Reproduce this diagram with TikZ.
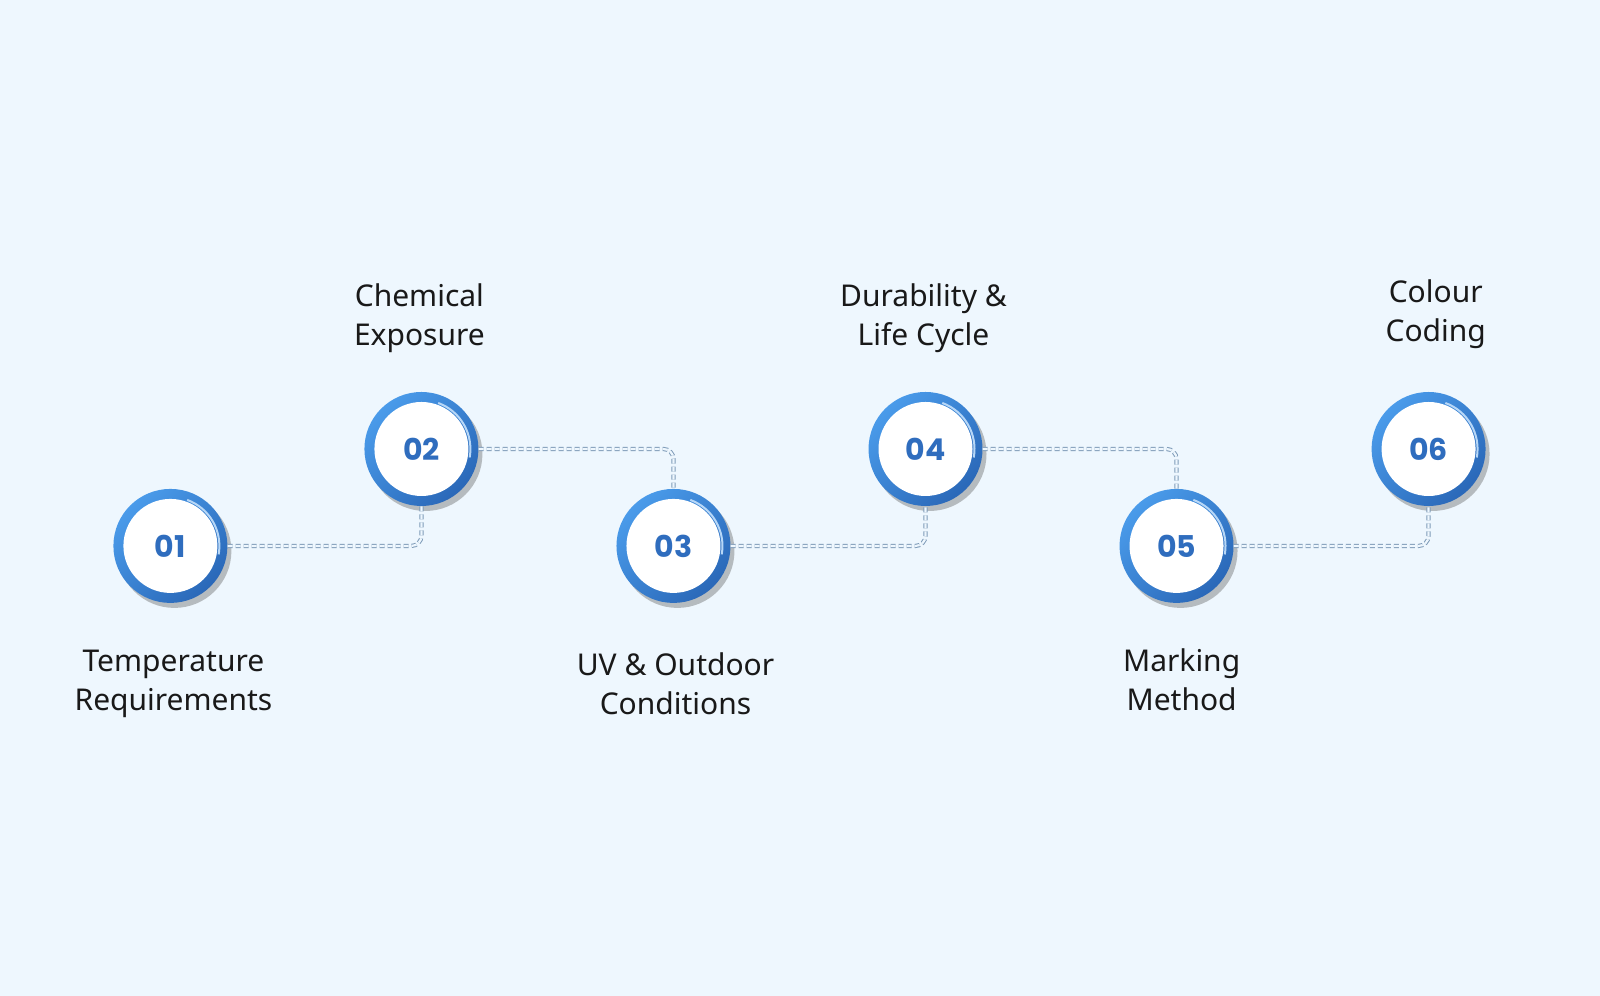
\documentclass[tikz,border=0pt]{standalone}
\usepackage{fontspec}
\setmainfont{Noto Sans}
\newfontfamily\numfont{Poppins}
\usetikzlibrary{shadows,shadings}
\definecolor{bg}{HTML}{EEF7FE}
\definecolor{ringA}{HTML}{4A9BEA}
\definecolor{ringB}{HTML}{2A68B8}
\definecolor{numc}{HTML}{2F6DBE}
\definecolor{conn}{HTML}{7E9BB8}
\tikzset{
  ring/.style={circle,minimum size=114pt,inner sep=0pt,left color=ringA,right color=ringB,shading angle=45,
    drop shadow={shadow xshift=4pt,shadow yshift=-5pt,opacity=.35,fill=black!70}},
  core/.style={circle,fill=white,minimum size=94pt,inner sep=0pt,font=\numfont\bfseries\fontsize{30}{30}\selectfont,text=numc},
  lbl/.style={align=center,font=\bfseries\fontsize{30}{39}\selectfont,text=black!90},
  link/.style={draw=conn,double=bg,double distance=2.2pt,line width=1pt,dash pattern=on 5pt off 3pt,rounded corners=10pt}
}
\begin{document}
\begin{tikzpicture}[x=1.0204pt,y=-1.0204pt]
\fill[bg] (0,0) rectangle (1568,976);
\useasboundingbox (0,0) rectangle (1568,976);
\foreach \n/\x/\y in {1/167/535,2/413/440,3/660/535,4/907/440,5/1153/535,6/1400/440}{
  \node[ring] (r\n) at (\x,\y) {};
  \draw[draw=ringA!40!white,line width=2pt] (\x,\y) ++(10:48) arc (10:-70:48);
  \node[core] (c\n) at (\x,\y) {0\n};
}
\draw[link] (r1.east) -| (r2.south);
\draw[link] (r2.east) -| (r3.north);
\draw[link] (r3.east) -| (r4.south);
\draw[link] (r4.east) -| (r5.north);
\draw[link] (r5.east) -| (r6.south);
\node[lbl] (t1) at (170,670) {Temperature\\Requirements};
\node[lbl] (t2) at (411,312) {Chemical\\Exposure};
\node[lbl] (t3) at (662,670) {UV \& Outdoor\\Conditions};
\node[lbl] (t4) at (905,312) {Durability \&\\Life Cycle};
\node[lbl] (t5) at (1158,666) {Marking\\Method};
\node[lbl] (t6) at (1407,308) {Colour\\Coding};
\end{tikzpicture}
\end{document}
